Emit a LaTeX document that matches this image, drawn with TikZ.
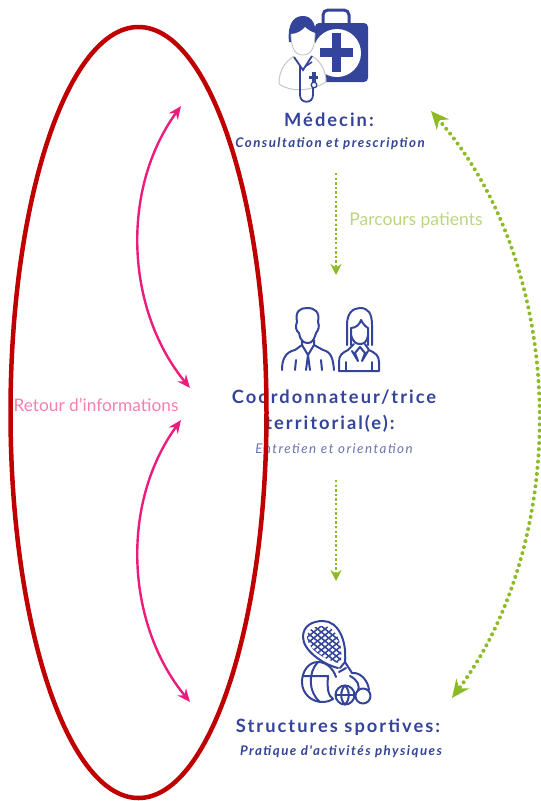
\documentclass[tikz,border=0pt]{standalone}
\usepackage{fontspec}
\setmainfont{Lato}
\newfontfamily\trackfont[LetterSpace=11]{Lato}
\usetikzlibrary{arrows.meta,shapes.geometric}
\definecolor{navy}{HTML}{34449A}
\definecolor{softnavy}{HTML}{6A74AE}
\definecolor{ringred}{HTML}{C00000}
\definecolor{pinkline}{HTML}{EC1C7C}
\definecolor{pinktext}{HTML}{F47FB0}
\definecolor{leaf}{HTML}{8DBB25}
\definecolor{leaftext}{HTML}{BBD67C}
\tikzset{
  titletext/.style={text=navy,font=\trackfont\bfseries\fontsize{18.3}{18}\selectfont,inner sep=0pt,anchor=center},
  subtext/.style={text=navy,font=\trackfont\bfseries\itshape\fontsize{13.3}{13}\selectfont,inner sep=0pt,anchor=center},
  softsub/.style={text=softnavy,font=\trackfont\itshape\fontsize{13.4}{13}\selectfont,inner sep=0pt,anchor=center},
  pinkarrow/.style={draw=pinkline,line width=2.4pt,{Stealth[length=13pt,width=11pt]}-{Stealth[length=13pt,width=11pt]}},
  flowarrow/.style={draw=leaf,line width=2.8pt,dash pattern=on 2.4pt off 2.2pt,-{Stealth[length=11pt,width=11pt]}},
  bigdots/.style={draw=leaf,line width=4pt,line cap=round,dash pattern=on 0pt off 6.2pt,{Stealth[length=18pt,width=16pt]}-{Stealth[length=18pt,width=16pt]}},
  iconline/.style={draw=navy,line width=2pt,line cap=round,line join=round,fill=none},
  netline/.style={line width=1.5pt,line cap=butt},
}
\begin{document}
\begin{tikzpicture}[x=1pt,y=-1pt]
\useasboundingbox (0,0) rectangle (541,801);
% doctor + medical bag
\fill[navy,rounded corners=4pt] (315,23) rectangle (368,82);
\draw[navy,line width=3pt,rounded corners=5pt] (323,24) -- (323,10) -- (349,10) -- (349,24);
\fill[white] (337,53) circle (24);
\fill[navy] (320,48) rectangle (353,57);
\fill[navy] (332,33) rectangle (341,72);
\fill[white] (279,92) .. controls (279,70) and (285,62) .. (294,56) -- (312,56) .. controls (322,62) and (326,72) .. (326,82) -- (320,92) -- cycle;
\draw[gray!45,line width=1pt] (279,84) .. controls (279,70) and (285,62) .. (294,56) (312,56) .. controls (322,62) and (326,72) .. (326,82) .. controls (310,92) and (290,92) .. (279,84);
\fill[navy] (289,42) .. controls (287,22) and (295,16) .. (303,16) .. controls (312,16) and (317,24) .. (316,42) -- cycle;
\fill[white] (291,34) .. controls (297,34) and (303,30) .. (305,27) .. controls (308,30) and (312,32) .. (315,33) .. controls (315,48) and (311,55) .. (303,55) .. controls (295,55) and (291,48) .. (291,34) -- cycle;
\draw[gray!50,line width=.8pt] (291,34) .. controls (291,48) and (295,55) .. (303,55) .. controls (311,55) and (315,48) .. (315,33);
\draw[navy,line width=1.8pt] (294,57) -- (303,70) -- (312,56);
\draw[navy,line width=1.8pt] (300,66) -- (300,95) .. controls (300,104) and (313,104) .. (313,95) -- (313,87);
\draw[navy,line width=1.6pt] (306,66) -- (312,62);
\fill[navy] (312,72) rectangle (316,84);
\fill[navy] (309,76) rectangle (318,79);
\draw[navy,line width=1.3pt,fill=white] (314,85) circle (2.8);
% two coordinators
\begin{scope}[iconline]
\draw (297,322) .. controls (295,311) and (300,308) .. (307,308) .. controls (315,308) and (320,312) .. (318,322)
  .. controls (320,326) and (318,331) .. (316,333) .. controls (314,340) and (312,343) .. (308,343) .. controls (303,343) and (300,340) .. (299,333) .. controls (296,331) and (295,326) .. (297,322);
\draw (302,340) -- (302,345) -- (295,350) .. controls (285,352) and (282,360) .. (282,370);
\draw (314,340) -- (314,345) -- (323,350) .. controls (332,352) and (333,360) .. (334,370);
\draw (302,345) -- (308,355) -- (314,345);
\draw (308,355) -- (306,370);
\draw (308,355) -- (310,370);
\draw (296,360) -- (295,370);
\draw (321,360) -- (322,370);
\draw (347,345) -- (347,325) .. controls (347,313) and (353,308) .. (360,308) .. controls (368,308) and (372,313) .. (372,325) -- (372,345);
\draw (351,345) -- (351,328) .. controls (356,328) and (360,324) .. (361,320) .. controls (363,324) and (366,327) .. (368,328) -- (368,345);
\draw (351,335) .. controls (353,342) and (356,344) .. (360,344) .. controls (364,344) and (367,342) .. (368,335);
\draw (354,344) -- (348,350) .. controls (342,353) and (339,355) .. (339,362) -- (339,371) -- (379,371) -- (379,362) .. controls (379,355) and (375,353) .. (369,350) -- (365,344);
\draw (352,351) -- (358,361) -- (355,353) -- (360,347) -- (365,353) -- (362,361) -- (368,351);
\draw (346,362) -- (346,371);
\draw (372,362) -- (372,371);
\end{scope}
% racket and balls
\begin{scope}[iconline]
\draw (338,668) .. controls (322,664) and (303,650) .. (303,637) .. controls (303,626) and (312,621) .. (323,621) .. controls (338,621) and (347,640) .. (345,662) -- (340,668);
\begin{scope}
\clip (339,663) .. controls (324,660) and (307,648) .. (307,637) .. controls (307,630) and (314,626) .. (323,626) .. controls (335,626) and (343,642) .. (341,660) -- cycle;
\foreach \k in {-40,-34,...,60} {
  \draw[netline] (300,625+\k) -- (350,665+\k);
  \draw[netline] (300,665+\k) -- (350,625+\k);
}
\end{scope}
\draw (345,662) -- (352,673);
\draw (339,672) -- (346,668);
\draw (352,673) .. controls (360,672) and (368,680) .. (369,690);
\draw (350,676) .. controls (358,680) and (360,686) .. (358,691);
% basketball
\draw (336,677) .. controls (333,668) and (326,662) .. (318,662) .. controls (308,662) and (302,672) .. (302,682) .. controls (302,694) and (312,702) .. (322,702) .. controls (326,702) and (330,701) .. (333,699);
\draw (303,676) -- (328,676) .. controls (327,689) and (328,695) .. (333,699);
\draw (318,662) .. controls (308,672) and (308,692) .. (320,702);
\draw (345,695) circle (9.5);
\draw (335.5,695) -- (354.5,695);
\draw (345,685.5) .. controls (340,690) and (340,700) .. (345,704.5);
\draw (345,685.5) .. controls (350,690) and (350,700) .. (345,704.5);
\draw (363,696) circle (7.5);
\end{scope}
% texts
\node[titletext] (medecin) at (329,120) {Médecin:};
\node[subtext] (consult) at (330,144) {Consultation et prescription};
\node[titletext] (coord) at (334,397) {Coordonnateur/trice};
\node[titletext] (terr) at (330,424) {territorial(e):};
\node[softsub] (entretien) at (334,449) {Entretien et orientation};
\node[titletext] (struct) at (338,727) {Structures sportives:};
\node[subtext] (pratique) at (341,752) {Pratique d'activités physiques};
\node[inner sep=0pt,text=leaftext,font=\fontsize{17.5}{17}\selectfont] (parcours) at (416,221) {Parcours patients};
\node[inner sep=0pt,text=pinktext,font=\fontsize{17.3}{17}\selectfont] (retour) at (96,405) {Retour d'informations};
% arrow ends
\coordinate (mb) at (336,173);
\coordinate (ct) at (336,275);
\coordinate (cb) at (336,480);
\coordinate (st) at (336,581);
\coordinate (mr) at (431,111);
\coordinate (sr) at (452,698);
\coordinate (p1) at (181,106);
\coordinate (p2) at (190,388);
\coordinate (p3) at (181,420);
\coordinate (p4) at (190,702);
% connectors
\draw[flowarrow] (mb) -- (ct);
\draw[flowarrow] (cb) -- (st);
\draw[bigdots] (mr) .. controls (570,270) and (570,540) .. (sr);
\draw[pinkarrow] (p1) .. controls (120,190) and (126,310) .. (p2);
\draw[pinkarrow] (p3) .. controls (120,504) and (126,624) .. (p4);
% red ring
\node[draw=ringred,line width=4.5pt,ellipse,minimum width=256pt,minimum height=771pt,inner sep=0pt] (ring) at (138.5,412.5) {};
\end{tikzpicture}
\end{document}
